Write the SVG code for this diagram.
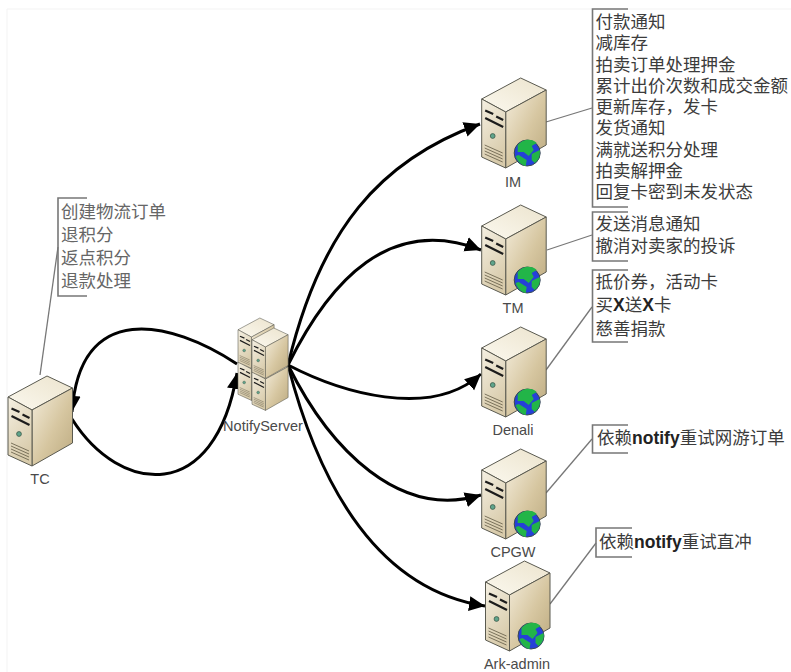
<svg xmlns="http://www.w3.org/2000/svg" width="791" height="672" viewBox="0 0 791 672">
<style>
.lbl{font-family:"Liberation Sans",Arial,sans-serif;font-size:14.5px;fill:#4a4a4a;text-anchor:middle}
.note{font-family:"Noto Sans CJK SC","Liberation Sans",sans-serif;font-size:17.5px;fill:#3c3c3c}
.note tspan.b{font-family:"Liberation Sans",sans-serif;font-weight:bold;fill:#222}
.soft{fill:#666}
.br{fill:none;stroke:#777;stroke-width:1.6}
.lead{fill:none;stroke:#777;stroke-width:1.3}
.arr{fill:none;stroke:#000;stroke-width:3;marker-end:url(#head)}
.edge{stroke:#5a5a50;stroke-width:1;stroke-linejoin:round}
</style>
<defs>
<marker id="head" markerUnits="userSpaceOnUse" markerWidth="18" markerHeight="16" refX="16" refY="8" orient="auto">
<path d="M0,0.5 L16,8 L0,15.500 Z" fill="#000"/>
</marker>
<linearGradient id="gTop" x1="0" y1="1" x2="1" y2="0"><stop offset="0" stop-color="#fbf8ee"/><stop offset="1" stop-color="#ece4ce"/></linearGradient>
<linearGradient id="gFront" x1="0" y1="0" x2="0.4" y2="1"><stop offset="0" stop-color="#f5f0e2"/><stop offset="1" stop-color="#d8cbab"/></linearGradient>
<linearGradient id="gSide" x1="0" y1="0" x2="1" y2="1"><stop offset="0" stop-color="#f4eddc"/><stop offset="0.55" stop-color="#d6c6a0"/><stop offset="1" stop-color="#bba97f"/></linearGradient>
<g id="box">
<path class="edge" fill="url(#gTop)" d="M39,0 L64.5,12 L24,34 L0,21 Z"/>
<path class="edge" fill="url(#gSide)" d="M64.5,12 L64.5,67 L24,90 L24,34 Z"/>
<path class="edge" fill="url(#gFront)" d="M0,21 L24,34 L24,90 L0,79 Z"/>
<path fill="none" stroke="#1c1c1c" stroke-width="2.2" d="M3.500,32.500 L11.500,36 M14.500,38.500 L21.500,42 M3.500,40 L21.500,49"/>
<circle cx="11" cy="58" r="2.4" fill="#5fa58c" stroke="#3e5a4a" stroke-width="0.8"/>
<path fill="none" stroke="#6e6650" stroke-width="0.9" d="M3,67 L21,75 M3,70 L21,78 M3,73 L21,81 M3,76 L21,84"/>
</g>
<g id="globe">
<circle cx="45.500" cy="75" r="13" fill="#2540d8" stroke="#3a4a50" stroke-width="1"/>
<path fill="#22b548" d="M36,67 C41,61 50,60 55,65 L50,68 L52,72 L47,78 L42,74 L36,74 Z M50,76 L58,72 C59,77 57,82 53,85 L50,82 Z M37,77 L45,82 L44,88 C39,87 35,82 34,78 Z"/>
</g>
<g id="host"><use href="#box"/><use href="#globe"/></g>
</defs>
<rect width="791" height="672" fill="#fff"/>
<path d="M7,672 V9 H791" fill="none" stroke="#f3f3f3" stroke-width="1"/>

<g id="connectors">
<path class="arr" d="M288,365 C320,230 380,160 480,124"/>
<path class="arr" d="M288,365 C330,280 390,215 481,250"/>
<path class="arr" d="M288,365 C340,392 430,420 481,374"/>
<path class="arr" d="M288,365 C330,450 400,520 481,495"/>
<path class="arr" d="M288,365 C320,490 380,590 485,606"/>
<path class="arr" d="M237,364 C170,320 80,300 72,412"/>
<path class="arr" d="M72,419 C120,495 215,505 237,373"/>
<path class="lead" d="M546,122 L592,108"/>
<path class="lead" d="M547,250 L592,235"/>
<path class="lead" d="M546,370 L592,307"/>
<path class="lead" d="M546,493 L592,439"/>
<path class="lead" d="M550,604 L596,543"/>
<path class="lead" d="M40,375 L58,247"/>
</g>

<g id="NotifyServer">
<use href="#box" transform="translate(238,350) scale(.56)"/>
<use href="#box" transform="translate(252,360) scale(.56)"/>
<use href="#box" transform="translate(238,318) scale(.56)"/>
<use href="#box" transform="translate(252,328) scale(.56)"/>
<text class="lbl" x="263" y="431">NotifyServer</text>
</g>
<g id="TC">
<use href="#box" transform="translate(8,376)"/>
<text class="lbl" x="40" y="484">TC</text>
<path class="br" d="M87,198 H58 V296 H87"/>
<text class="note soft" x="61"><tspan x="61" y="218">创建物流订单</tspan><tspan x="61" y="241">退积分</tspan><tspan x="61" y="264">返点积分</tspan><tspan x="61" y="287">退款处理</tspan></text>
</g>
<g id="IM">
<use href="#host" transform="translate(481.7,78)"/>
<text class="lbl" x="513" y="187">IM</text>
<path class="br" d="M628,9 H592.500 V207 H628"/>
<text class="note"><tspan x="595.500" y="28">付款通知</tspan><tspan x="595.500" y="49.300">减库存</tspan><tspan x="595.500" y="70.500">拍卖订单处理押金</tspan><tspan x="595.500" y="91.800">累计出价次数和成交金额</tspan><tspan x="595.500" y="113">更新库存，发卡</tspan><tspan x="595.500" y="134.300">发货通知</tspan><tspan x="595.500" y="155.500">满就送积分处理</tspan><tspan x="595.500" y="176.800">拍卖解押金</tspan><tspan x="595.500" y="198">回复卡密到未发状态</tspan></text>
</g>
<g id="TM">
<use href="#host" transform="translate(481.7,205)"/>
<text class="lbl" x="513" y="313">TM</text>
<path class="br" d="M628,212 H592.500 V261 H628"/>
<text class="note"><tspan x="595.500" y="229.500">发送消息通知</tspan><tspan x="595.500" y="251.500">撤消对卖家的投诉</tspan></text>
</g>
<g id="Denali">
<use href="#host" transform="translate(481.7,327)"/>
<text class="lbl" x="513" y="435">Denali</text>
<path class="br" d="M628,270 H592.500 V342 H628"/>
<text class="note"><tspan x="595.500" y="287.500">抵价券，活动卡</tspan><tspan x="595.500" y="311">买<tspan class="b">X</tspan>送<tspan class="b">X</tspan>卡</tspan><tspan x="595.500" y="334.500">慈善捐款</tspan></text>
</g>
<g id="CPGW">
<use href="#host" transform="translate(481.7,449)"/>
<text class="lbl" x="513" y="557">CPGW</text>
<path class="br" d="M628,425 H592.500 V453 H628"/>
<text class="note" x="597" y="444">依赖<tspan class="b">notify</tspan>重试网游订单</text>
</g>
<g id="Ark-admin">
<use href="#host" transform="translate(485.500,561)"/>
<text class="lbl" x="517" y="669">Ark-admin</text>
<path class="br" d="M632,528 H596 V557 H632"/>
<text class="note" x="599" y="548">依赖<tspan class="b">notify</tspan>重试直冲</text>
</g>
</svg>
